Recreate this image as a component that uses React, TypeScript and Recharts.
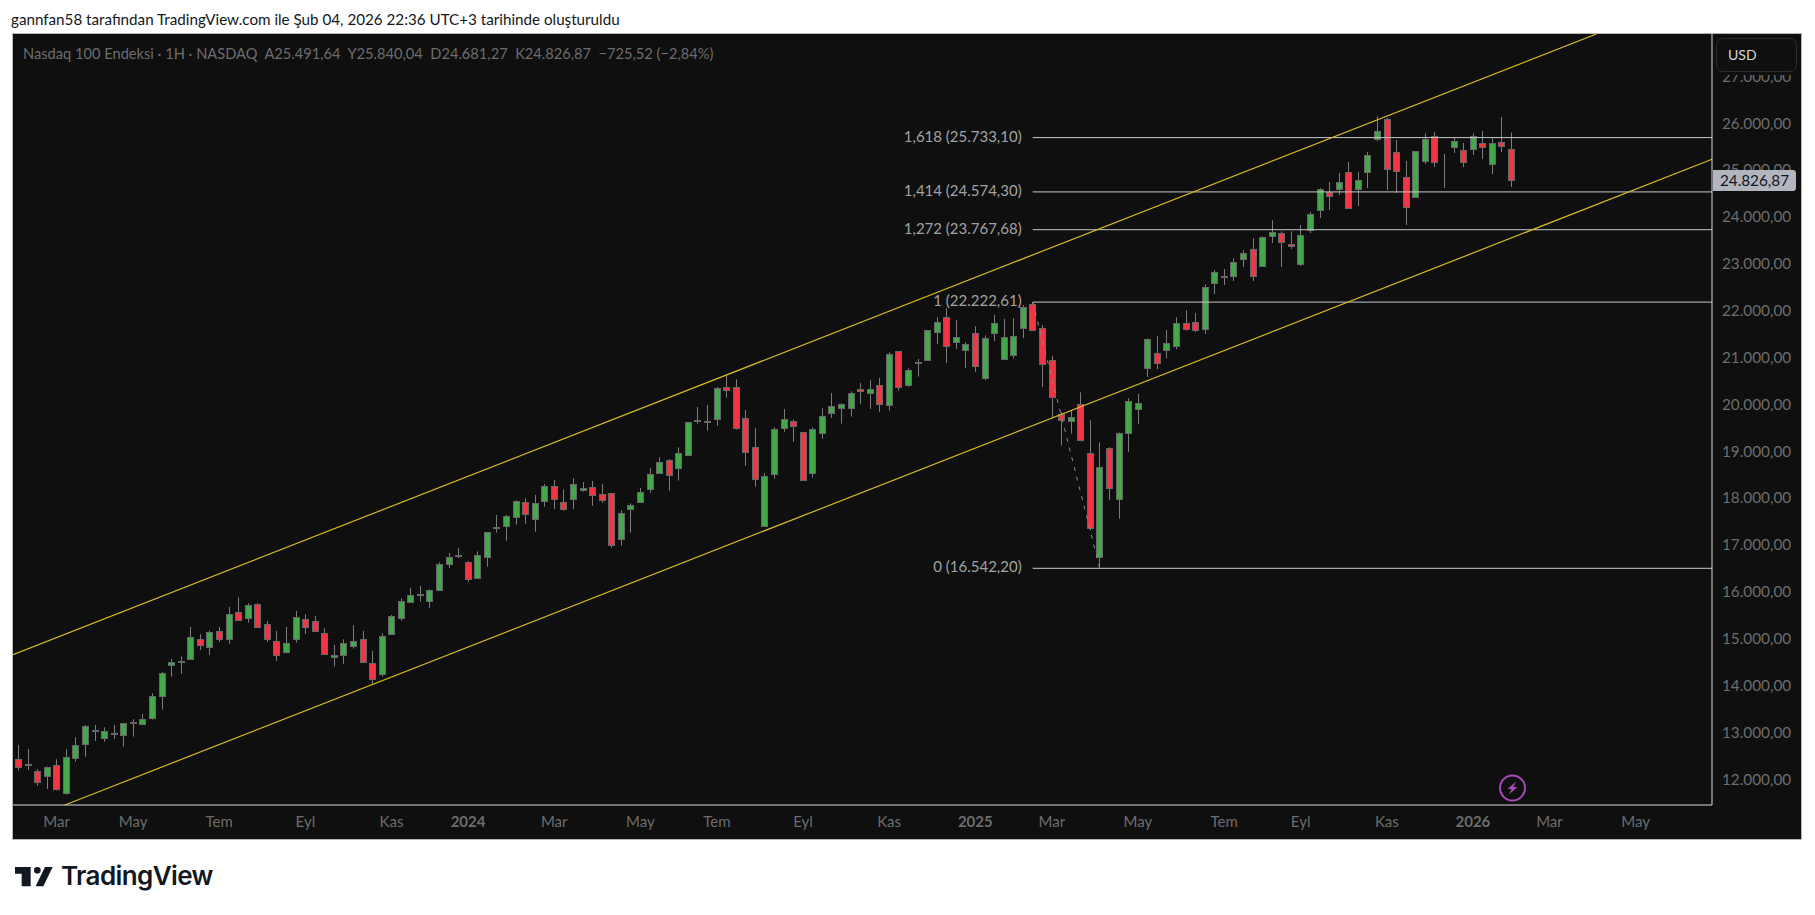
import { Bar, ComposedChart, ReferenceDot, ReferenceLine, XAxis, YAxis } from 'recharts';

const opens = [
  12466, 12350, 12210, 12104, 12338, 11741, 12488, 12787, 13070, 12936,
  13028, 12979, 13242, 13235, 13341, 13811, 14472, 14545, 14615, 15027,
  14856, 15198, 15027, 15603, 15475, 15774, 15347, 14984, 14750, 15027,
  15454, 15411, 15155, 14664, 14700, 14871, 15041, 14515, 14273, 15134,
  15468, 15838, 15975, 15838, 16073, 16627, 16813, 16670, 16349, 16776,
  17410, 17438, 17623, 17950, 17580, 17964, 18291, 17950, 18007, 18206,
  18270, 18121, 18142, 17160, 17793, 17950, 18220, 18569, 18846, 18675,
  18953, 19694, 19662, 19714, 20404, 20404, 19742, 19124, 17438, 18547,
  19529, 19678, 19444, 18569, 19422, 19849, 19956, 19956, 20361, 20276,
  20447, 20020, 21172, 20447, 20931, 20981, 21578, 21898, 21365, 21194,
  21557, 20597, 21557, 21002, 21087, 21664, 22176, 21664, 20981, 19828,
  19679, 20042, 18996, 16777, 19103, 18015, 19423, 19935, 20810, 21130,
  21194, 21280, 21770, 21792, 21642, 22616, 22760, 22766, 23135, 23349,
  22986, 23626, 23690, 23456, 23029, 23754, 24181, 24580, 24629, 24992,
  24629, 24992, 25696, 26123, 25419, 24885, 24459, 25220, 25760, 25350,
  25526, 25462, 25483, 25611, 25163, 25632, 25491.64,
];
const highs = [
  12772, 12687, 12253, 12310, 12466, 12680, 12936, 13199, 13199, 13149,
  13199, 13245, 13320, 13434, 13875, 14330, 14607, 14664, 15290, 15134,
  15212, 15290, 15717, 15923, 15795, 15795, 15418, 15205, 15290, 15632,
  15561, 15525, 15262, 14906, 15027, 15326, 15205, 14778, 15155, 15546,
  15902, 16123, 16165, 16094, 16670, 16869, 16975, 16698, 16904, 17310,
  17680, 17680, 17993, 18035, 18106, 18341, 18426, 18227, 18469, 18384,
  18405, 18341, 18142, 17786, 17929, 18256, 18683, 18910, 18875, 19124,
  19657, 19984, 20027, 20418, 20681, 20575, 19920, 19536, 18569, 19550,
  19942, 19721, 19444, 19550, 19956, 20283, 20063, 20319, 20496, 20560,
  20603, 21151, 21172, 20809, 21009, 21621, 21898, 22090, 21841, 21365,
  21706, 21514, 21948, 21863, 21884, 22162, 22218, 21735, 21073, 19871,
  19914, 20298, 19700, 19231, 19124, 19444, 20170, 20262, 21450, 21500,
  21628, 21898, 22048, 21991, 22603, 22908, 22929, 23157, 23328, 23591,
  23626, 23968, 23733, 23733, 23868, 24146, 24658, 24786, 24978, 25213,
  24999, 25426, 26187, 26152, 25682, 25234, 25440, 25824, 25853, 25383,
  25732, 25618, 25824, 25874, 25739, 26173, 25840.04,
];
const lows = [
  12225, 12239, 11897, 11833, 11798, 11712, 12417, 12523, 12858, 12843,
  12900, 12737, 12950, 13213, 13313, 13526, 14230, 14287, 14593, 14799,
  14693, 14970, 14935, 15425, 15383, 15276, 14970, 14565, 14728, 14956,
  15141, 15191, 14700, 14444, 14501, 14828, 14551, 14074, 14230, 15120,
  15425, 15831, 15831, 15696, 16073, 16549, 16762, 16250, 16349, 16577,
  17303, 17132, 17473, 17495, 17324, 17857, 17808, 17772, 17808, 18177,
  17879, 17943, 16982, 17025, 17303, 17950, 18156, 18569, 18199, 18412,
  18953, 19629, 19479, 19579, 20183, 19501, 18732, 18284, 17438, 18455,
  19458, 19245, 18419, 18476, 19309, 19750, 19629, 19778, 20048, 19942,
  19878, 19906, 20333, 20418, 20632, 20981, 21329, 20924, 21223, 20817,
  20732, 20554, 21393, 21002, 21023, 21457, 21621, 20412, 19764, 19160,
  19416, 19252, 17353, 16542, 18000, 17602, 19025, 19622, 20625, 20789,
  21023, 21215, 21614, 21578, 21543, 22396, 22588, 22673, 22972, 22673,
  22986, 23484, 22972, 23356, 22993, 23697, 24018, 24188, 24508, 24210,
  24274, 24658, 25661, 24615, 24551, 23868, 24459, 25170, 25106, 24658,
  25405, 25106, 25362, 25277, 24957, 25426, 24681.27,
];
const closes = [
  12296, 12370, 11976, 12296, 11819, 12509, 12765, 13171, 13085, 13078,
  13007, 13235, 13255, 13334, 13811, 14302, 14536, 14557, 15084, 14892,
  15176, 15020, 15561, 15433, 15753, 15276, 15020, 14679, 14942, 15497,
  15276, 15198, 14700, 14700, 14956, 14984, 14551, 14174, 15091, 15518,
  15838, 15980, 15988, 16073, 16628, 16776, 16825, 16307, 16833, 17310,
  17422, 17651, 17971, 17694, 17929, 18291, 18007, 17800, 18334, 18249,
  18092, 17993, 17025, 17715, 17886, 18163, 18547, 18803, 18526, 18995,
  19657, 19706, 19680, 20383, 20340, 19529, 19017, 18441, 18505, 19508,
  19721, 19572, 18419, 19508, 19785, 19999, 20041, 20276, 20319, 20361,
  20041, 21108, 20404, 20767, 20943, 21621, 21792, 21280, 21472, 21322,
  20853, 21450, 21770, 21472, 21493, 22112, 21621, 20895, 20191, 19700,
  19764, 19274, 17396, 18697, 18249, 19423, 20106, 20063, 21429, 20917,
  21344, 21770, 21642, 21621, 22539, 22858, 22772, 23071, 23264, 22773,
  23605, 23712, 23498, 23413, 23648, 24096, 24629, 24494, 24779, 24224,
  24821, 25355, 25867, 25056, 25013, 24245, 25440, 25696, 25205, 25360,
  25654, 25205, 25760, 25526, 25611, 25547, 24826.87,
];

const priceTicks = [12000, 13000, 14000, 15000, 16000, 17000, 18000, 19000, 20000, 21000, 22000, 23000, 24000, 25000, 26000, 27000];
const timeTicks = [4, 12, 21, 30, 39, 47, 56, 65, 73, 82, 91, 100, 108, 117, 126, 134, 143, 152, 160, 169];
const timeLabels = ['Mar', 'May', 'Tem', 'Eyl', 'Kas', '2024', 'Mar', 'May', 'Tem', 'Eyl', 'Kas', '2025', 'Mar', 'May', 'Tem', 'Eyl', 'Kas', '2026', 'Mar', 'May'];

const fibLevels = [
  { label: '1,618 (25.733,10)', price: 25733.1 },
  { label: '1,414 (24.574,30)', price: 24574.3 },
  { label: '1,272 (23.767,68)', price: 23767.68 },
  { label: '1 (22.222,61)', price: 22222.61 },
  { label: '0 (16.542,20)', price: 16542.2 },
];

const xDomain = [-0.55, 176.98];
const yDomain = [11491, 27944];
const upperChannel = [{ x: -0.55, y: 14700 }, { x: 164.9, y: 27944 }];
const lowerChannel = [{ x: 4.88, y: 11491 }, { x: 176.98, y: 25270 }];
const fibSwing = [{ x: 106, y: 22222.61 }, { x: 113, y: 16542.2 }];

const candles = opens.map((open, i) => ({
  i,
  open,
  close: closes[i],
  range: [lows[i], highs[i]],
}));

const FONT = 'Lato, sans-serif';
const BG = '#0f0f0f';
const MUTED = '#6d6d6d';

const Candle = (props: any) => {
  const { x, y, width, height, payload } = props;
  const [low, high] = payload.range;
  const perPrice = Math.abs(height) / (high - low);
  const top = Math.min(y, y + height);
  const cx = Math.round(x + width / 2);
  const openY = top + (high - payload.open) * perPrice;
  const closeY = top + (high - payload.close) * perPrice;
  const bodyTop = Math.round(Math.min(openY, closeY)) + 0.5;
  const bodyHeight = Math.round(Math.abs(openY - closeY));
  const fill = payload.close >= payload.open ? '#43a84c' : '#f23645';
  return (
    <g>
      <line x1={cx + 0.5} x2={cx + 0.5} y1={top} y2={top + Math.abs(height)} stroke="#7c7c7c" strokeWidth={1} />
      <rect x={cx - 2.5} y={bodyTop} width={6} height={bodyHeight} fill={fill} stroke="#666666" strokeWidth={1} />
    </g>
  );
};

const TimeTick = (props: any) => {
  const { x, y, payload } = props;
  const label = timeLabels[timeTicks.indexOf(payload.value)];
  const isYear = label.length === 4;
  return (
    <text x={x} y={y + 14} textAnchor="middle" fontFamily={FONT} fontSize={15} fontWeight={isYear ? 700 : 400} fill={MUTED}>
      {label}
    </text>
  );
};

const PriceTick = (props: any) => {
  const { x, y, payload } = props;
  return (
    <text x={x} y={y + 3.5} textAnchor="start" fontFamily={FONT} fontSize={15.3} fill={MUTED}>
      {formatPrice(payload.value)}
    </text>
  );
};

const formatPrice = (v: number) =>
  v.toLocaleString('tr-TR', { minimumFractionDigits: 2, maximumFractionDigits: 2 });

const FibLabel = (props: any) => {
  const { viewBox, value } = props;
  return (
    <text x={viewBox.x} y={viewBox.y + 4} textAnchor="end" fontFamily={FONT} fontSize={15} fill="#a3a3a3">
      {value}
    </text>
  );
};

const Logo = () => (
  <div style={{ position: 'absolute', left: 15, top: 860, display: 'flex', alignItems: 'center', color: '#131722' }}>
    <svg width={38} height={20} viewBox="0 0 114 60" style={{ marginRight: 8, marginTop: 1 }}>
      <path d="M0 0H47V58H20V20H0Z" fill="#131722" />
      <circle cx="67" cy="10" r="10" fill="#131722" />
      <path d="M90 0H113L85 58H62Z" fill="#131722" />
    </svg>
    <span style={{ fontFamily: 'Inter, sans-serif', fontSize: 26, fontWeight: 600, letterSpacing: -0.6, lineHeight: '32px' }}>TradingView</span>
  </div>
);

export default function App() {
  return (
    <div style={{ position: 'absolute', left: 0, top: 0, width: 1815, height: 915, background: '#fff', overflow: 'hidden' }}>
      <div style={{ position: 'absolute', left: 11, top: 10, fontFamily: FONT, fontSize: 15.2, color: '#131722', whiteSpace: 'nowrap' }}>
        gannfan58 tarafından TradingView.com ile Şub 04, 2026 22:36 UTC+3 tarihinde oluşturuldu
      </div>

      <div style={{ position: 'absolute', left: 12, top: 33, width: 1788, height: 805, border: '1px solid #b5b5b5', background: BG }}>
        <ComposedChart
          width={1788}
          height={805}
          data={candles}
          margin={{ top: 0, right: 0, bottom: 0, left: 0 }}
          style={{ background: BG }}
        >
          <XAxis
            dataKey="i"
            type="number"
            domain={xDomain}
            allowDataOverflow
            ticks={timeTicks}
            interval={0}
            height={34}
            tick={<TimeTick />}
            tickLine={false}
            axisLine={{ stroke: '#d9d9d9', strokeWidth: 1 }}
          />
          <YAxis
            orientation="right"
            type="number"
            domain={yDomain}
            allowDataOverflow
            ticks={priceTicks}
            interval={0}
            width={89}
            tickLine={false}
            tickMargin={4}
            tick={<PriceTick />}
            axisLine={{ stroke: '#d9d9d9', strokeWidth: 1 }}
          />
          <ReferenceLine segment={fibSwing} stroke="#8a8a8a" strokeWidth={1} strokeDasharray="4 6" />
          {fibLevels.map((f) => (
            <ReferenceLine
              key={f.label}
              segment={[{ x: 106, y: f.price }, { x: xDomain[1], y: f.price }]}
              stroke="#c8c8c8"
              strokeWidth={1}
            />
          ))}
          <ReferenceLine segment={upperChannel} stroke="#d4bd1f" strokeWidth={1.2} />
          <ReferenceLine segment={lowerChannel} stroke="#d4bd1f" strokeWidth={1.2} />
          <Bar dataKey="range" barSize={7} shape={<Candle />} isAnimationActive={false} />
          {fibLevels.map((f) => (
            <ReferenceDot
              key={f.label + 'dot'}
              x={104.85}
              y={f.price}
              r={0}
              fill="none"
              stroke="none"
              label={<FibLabel value={f.label} />}
            />
          ))}
        </ComposedChart>
      </div>

      <div style={{ position: 'absolute', left: 23, top: 45, fontFamily: FONT, fontSize: 14.65, color: MUTED, whiteSpace: 'pre' }}>
        {'Nasdaq 100 Endeksi · 1H · NASDAQ  A25.491,64  Y25.840,04  D24.681,27  K24.826,87  −725,52 (−2,84%)'}
      </div>

      <div style={{ position: 'absolute', left: 1713, top: 34, width: 88, height: 41, background: BG }} />
      <div style={{ position: 'absolute', left: 1716, top: 38, width: 79, height: 32, border: '1px solid #2e2e2e', borderRadius: 7, background: BG, color: '#d8d8d8', fontFamily: FONT, fontSize: 14, lineHeight: '32px', textIndent: 11 }}>
        USD
      </div>

      <div style={{ position: 'absolute', left: 1713, top: 170, width: 83, height: 21, borderRadius: '0 3px 3px 0', background: '#b2b5be', color: '#131722', fontFamily: FONT, fontSize: 15.3, lineHeight: '21px', textAlign: 'center' }}>
        24.826,87
      </div>

      <svg width={30} height={30} style={{ position: 'absolute', left: 1497, top: 773 }}>
        <circle cx={15.5} cy={15} r={12.5} fill="none" stroke="#ab47bc" strokeWidth={2} />
        <path d="M19 8.5 L10.5 16 H14.5 L12 21.5 L20.5 14 H16.5 Z" fill="#ab47bc" />
      </svg>

      <Logo />
    </div>
  );
}
